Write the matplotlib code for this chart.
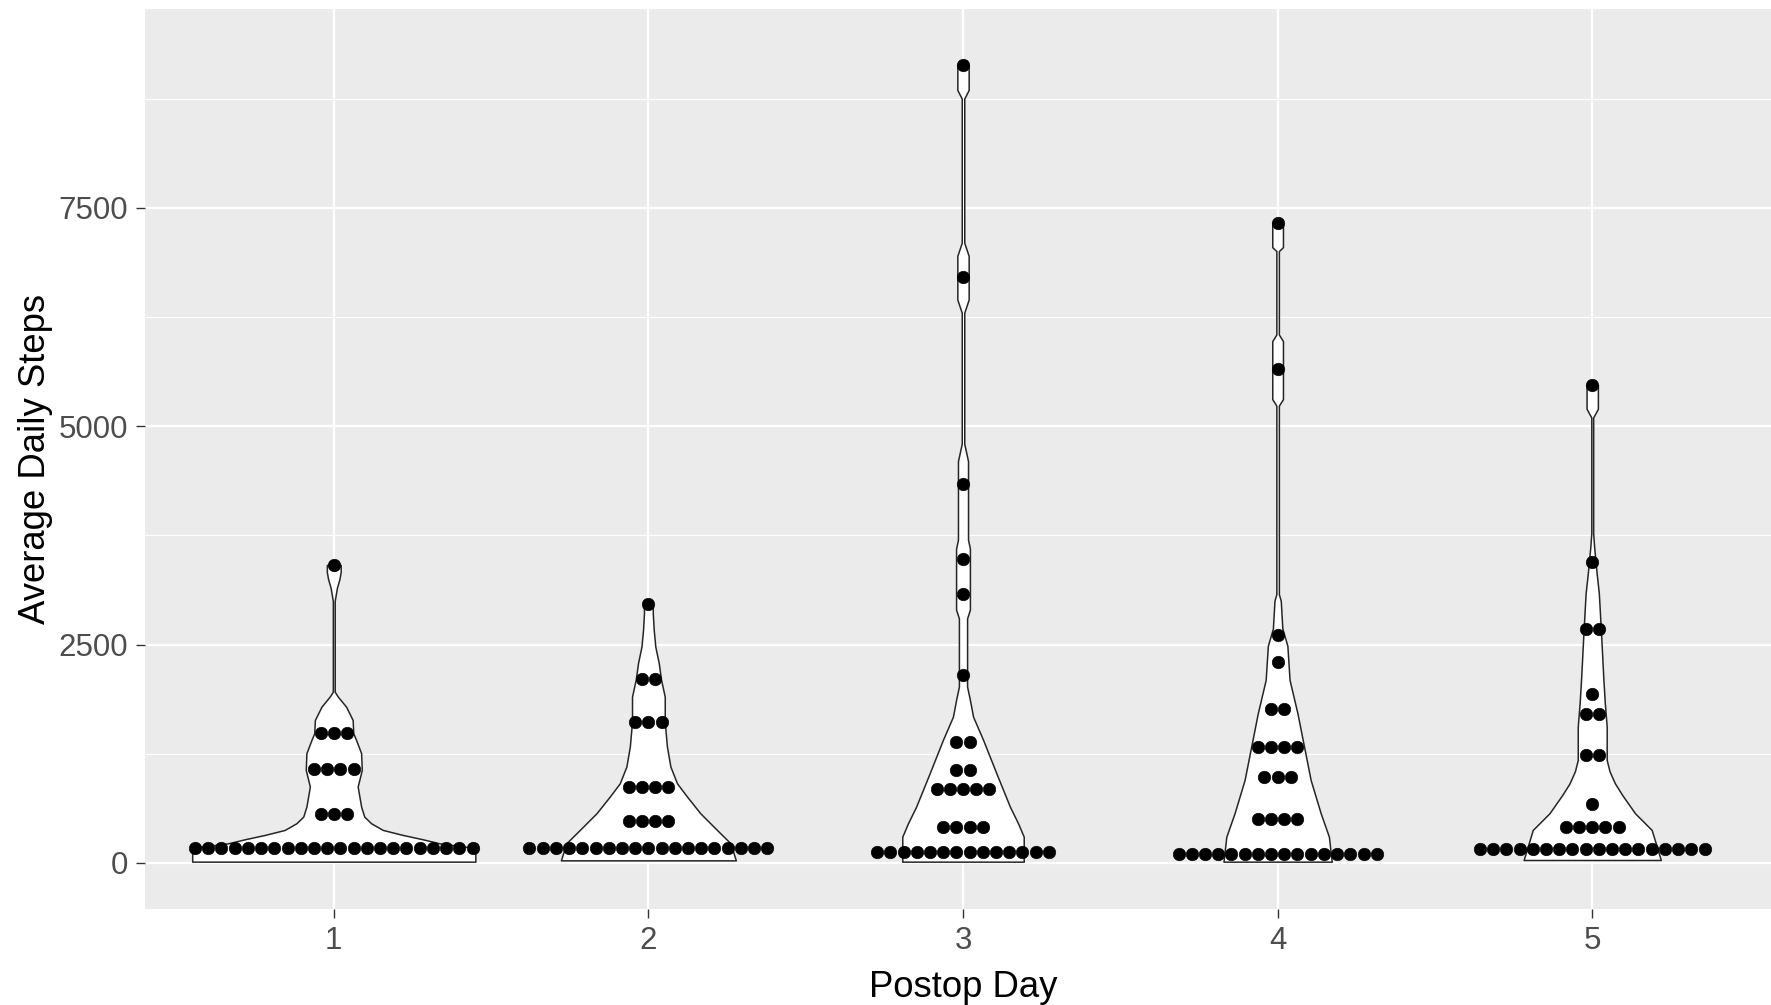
import numpy as np
import matplotlib
matplotlib.use('Agg')
import matplotlib.pyplot as plt

plt.rcParams['font.family'] = ['Liberation Sans', 'DejaVu Sans']

days = [1, 2, 3, 4, 5]
day_labels = ['1', '2', '3', '4', '5']

# dot rows (binned average daily steps) and how many dots sit in each row
d1_vals = [168, 561, 1073, 1485, 3412]
d1_counts = [22, 3, 4, 3, 1]
d2_vals = [168, 484, 874, 1618, 2103, 2966]
d2_counts = [19, 4, 4, 3, 2, 1]
d3_vals = [130, 416, 847, 1065, 1389, 2153, 3076, 3477, 4336, 6706, 9137]
d3_counts = [14, 4, 5, 2, 2, 1, 1, 1, 1, 1, 1]
d4_vals = [100, 504, 983, 1332, 1758, 2301, 2612, 5650, 7331]
d4_counts = [16, 4, 3, 4, 2, 1, 1, 1, 1]
d5_vals = [157, 416, 676, 1237, 1702, 1935, 2676, 3450, 5473]
d5_counts = [18, 5, 1, 2, 2, 1, 2, 1, 1]

# violin outlines: steps and half width (in day units)
v1_y = [15, 170, 225, 271, 321, 378, 454, 530, 645, 874, 1065, 1256, 1408,
        1485, 1637, 1790, 1904, 1961, 2100, 3000, 3150, 3250, 3330, 3412]
v1_w = [0.45, 0.45, 0.336, 0.283, 0.219, 0.156, 0.119, 0.097, 0.087, 0.076,
        0.089, 0.087, 0.071, 0.062, 0.060, 0.039, 0.013, 0.003, 0.003, 0.003,
        0.010, 0.018, 0.022, 0.022]
v2_y = [30, 225, 378, 569, 759, 912, 1103, 1332, 1618, 1904, 2103, 2287, 2477,
        2668, 2859, 2966]
v2_w = [0.278, 0.261, 0.218, 0.165, 0.123, 0.091, 0.070, 0.059, 0.052, 0.052,
        0.040, 0.033, 0.022, 0.017, 0.014, 0.014]
v3_y = [15, 301, 454, 645, 1027, 1408, 1675, 1866, 2019, 2800, 2900, 3600,
        3700, 4600, 4800, 6300, 6450, 6950, 7100, 8750, 8850, 9137]
v3_w = [0.193, 0.193, 0.175, 0.149, 0.106, 0.064, 0.032, 0.022, 0.013, 0.013,
        0.022, 0.022, 0.016, 0.016, 0.004, 0.004, 0.018, 0.018, 0.004, 0.004,
        0.018, 0.018]
v4_y = [15, 301, 568, 950, 1332, 1714, 2095, 2487, 2684, 3002, 3077, 5236,
        5310, 5974, 6050, 7005, 7050, 7331]
v4_w = [0.172, 0.163, 0.137, 0.105, 0.084, 0.063, 0.038, 0.031, 0.015, 0.010,
        0.004, 0.004, 0.017, 0.017, 0.004, 0.004, 0.017, 0.017]
v5_y = [34, 378, 569, 780, 912, 1050, 1179, 1561, 1829, 2133, 2630, 3088,
        3317, 3622, 3775, 5100, 5200, 5473]
v5_w = [0.218, 0.189, 0.136, 0.095, 0.072, 0.055, 0.046, 0.046, 0.040, 0.035,
        0.028, 0.021, 0.014, 0.006, 0.003, 0.003, 0.018, 0.018]

yticks = [0, 2500, 5000, 7500]
yminor = [1250, 3750, 6250, 8750]

dot_vals = [d1_vals, d2_vals, d3_vals, d4_vals, d5_vals]
dot_counts = [d1_counts, d2_counts, d3_counts, d4_counts, d5_counts]
violin_y = [v1_y, v2_y, v3_y, v4_y, v5_y]
violin_w = [v1_w, v2_w, v3_w, v4_w, v5_w]

fig = plt.figure(figsize=(17.71, 10.05), dpi=100)
ax = fig.add_axes([145 / 1771, 1 - 909 / 1005, 1636 / 1771, 900 / 1005])
ax.set_facecolor('#EBEBEB')
for s in ax.spines.values():
    s.set_visible(False)

spacing = 0.042
for day, vy, vw, vals, counts in zip(days, violin_y, violin_w, dot_vals, dot_counts):
    vy = np.array(vy)
    vw = np.array(vw)
    ax.fill_betweenx(vy, day - vw, day + vw, facecolor='white',
                     edgecolor='#262626', lw=1.1, zorder=2)
    for v, n in zip(vals, counts):
        xs = day + (np.arange(n) - (n - 1) / 2) * spacing
        ax.scatter(xs, [v] * n, s=82, color='black', edgecolors='black',
                   linewidths=0.4, zorder=3)

ax.set_xlim(0.4, 5.6)
ax.set_ylim(-527, 9776)
ax.set_xticks(days)
ax.set_xticklabels(day_labels)
ax.set_yticks(yticks)
ax.set_yticks(yminor, minor=True)

ax.set_axisbelow(True)
ax.grid(which='major', color='white', lw=1.6)
ax.grid(which='minor', axis='y', color='white', lw=0.8)

ax.tick_params(which='major', length=6.5, width=1.0, color='#333333',
               labelsize=22.5, labelcolor='#4D4D4D', pad=5.5)
ax.tick_params(which='minor', length=0)

ax.set_xlabel('Postop Day', fontsize=26.3, labelpad=10.5)
ax.set_ylabel('Average Daily Steps', fontsize=26.3, labelpad=4)

fig.savefig('out.png', dpi=100, facecolor='white')
